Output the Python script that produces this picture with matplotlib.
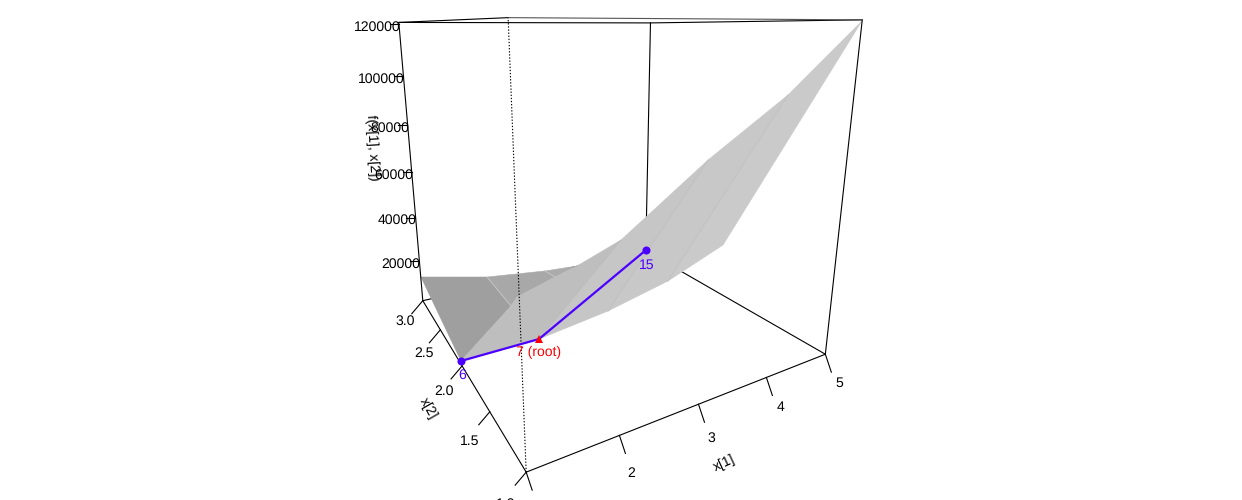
"""Perspective surface with a search tree on top, drawn flat through a fixed camera."""
import numpy as np
import matplotlib
matplotlib.use("Agg")
import matplotlib.pyplot as plt

plt.rcParams["font.family"] = ["Liberation Sans", "DejaVu Sans"]
plt.rcParams["text.hinting"] = "none"
plt.rcParams["text.hinting_factor"] = 1

# camera: (x1, x2, f/1000, 1) -> homogeneous pixel position
CAMERA = np.array([
    [2.4967583e+02, 1.3686193e+02, -1.6217564e+00, 4.9711853e+02],
    [3.7347654e+00, 1.5109401e+01, -6.4083390e+00, 7.7408288e+02],
    [1.5033429e-01, 5.2903073e-01, -2.6944160e-03, 1.0000000e+00],
])

x1_range = [1, 5]
x2_range = [1, 3]
f_range = [0, 120000]

x1_ticks = [1, 2, 3, 4, 5]
x1_tick_labels = ["", "2", "3", "4", "5"]
x2_ticks = [1.0, 1.5, 2.0, 2.5, 3.0]
f_ticks = [20000, 40000, 60000, 80000, 100000, 120000]

# surface vertices
v_x1 = [1, 1.5, 2, 2.5, 3, 4, 4.5, 5, 1, 2, 3, 4, 4.5, 2, 2.5, 1.5]
v_x2 = [2.991, 2.207, 1.865, 1.932, 1.811, 1.608, 1.241, 1.001,
        2.018, 1.989, 1.970, 1.979, 1.706, 2.353, 2.267, 1.792]
v_f = [11660, 26510, 33440, 30700, 40690, 70430, 95570, 119650,
       1410, 2530, 7120, 13230, 32150, 10890, 18430, 25370]

faces = [
    [0, 1, 15, 8],
    [1, 2, 14, 13, 15],
    [2, 3, 14],
    [8, 15, 13, 14, 3, 4, 9],
    [4, 5, 10, 9],
    [5, 6, 11, 10],
    [6, 7, 12, 11],
]
face_grey = ["#9f9f9f", "#a8a8a8", "#ababab", "#bebebe", "#c6c6c6", "#c8c8c8", "#cacaca"]
seams = [(1, 15, "#c4c4c4"), (2, 14, "#c4c4c4"), (4, 9, "#bcbcbc"), (5, 10, "#c0c0c0"), (6, 11, "#c2c2c2")]

# tree path
path_x1 = [1, 2, 3.5]
path_x2 = [2.018, 1.989, 1.898]
path_f = [1410, 2530, 31960]
path_labels = ["6", "7 (root)", "15"]

BLUE = "#4b00ff"
FS = 10.4


def project(x1, x2, f):
    q = CAMERA @ np.array([x1, x2, f / 1000.0, 1.0])
    return q[0] / q[2], q[1] / q[2]


def edge(ax, a, b, **kw):
    pa, pb = project(*a), project(*b)
    ax.plot([pa[0], pb[0]], [pa[1], pb[1]], solid_capstyle="round", **kw)


fig = plt.figure(figsize=(12.42, 5.0), dpi=100)
ax = fig.add_axes([0, 0, 1, 1])
ax.set_xlim(0, 1242)
ax.set_ylim(500, 0)
ax.axis("off")

xa, xb = x1_range
ya, yb = x2_range
za, zb = f_range
line = dict(color="black", lw=0.8)

# back of the box, under the surface
edge(ax, (xa, yb, za), (xb, yb, za), zorder=1, **line)
edge(ax, (xb, ya, za), (xb, yb, za), zorder=1, **line)
edge(ax, (xb, yb, za), (xb, yb, zb), zorder=1, **line)

verts = [project(a, b, c) for a, b, c in zip(v_x1, v_x2, v_f)]
for face, grey in zip(faces, face_grey):
    ax.fill([verts[i][0] for i in face], [verts[i][1] for i in face],
            facecolor=grey, edgecolor=grey, lw=0.4, zorder=2)
for i, j, grey in seams:
    ax.plot([verts[i][0], verts[j][0]], [verts[i][1], verts[j][1]], color=grey, lw=0.7, zorder=3)

# front of the box
edge(ax, (xa, ya, za), (xb, ya, za), zorder=4, **line)
edge(ax, (xa, ya, za), (xa, yb, za), zorder=4, **line)
edge(ax, (xa, yb, za), (xa, yb, zb), zorder=4, **line)
edge(ax, (xb, ya, za), (xb, ya, zb), zorder=4, **line)
edge(ax, (xa, yb, zb), (xb, yb, zb), zorder=4, **line)
edge(ax, (xb, yb, zb), (xb, ya, zb), zorder=4, **line)
edge(ax, (xa, ya, zb), (xa, yb, zb), zorder=4, **line)
edge(ax, (xa, ya, zb), (xb, ya, zb), zorder=4, color="#555555", lw=0.8)
pa, pb = project(xa, ya, za), project(xa, ya, zb)
ax.plot([pa[0], pb[0]], [pa[1], pb[1]], color="black", lw=0.8, ls=(0, (1.2, 1.6)), zorder=4)

# ticks are fixed screen offsets, labels sit per tick
x1_label_off = [(12, 40), (12, 38), (13, 34), (14, 30), (14, 29)]
x2_label_off = [(-21, 32), (-20, 29), (-18, 25), (-16, 23), (-18, 21)]
for t, lab, off in zip(x1_ticks, x1_tick_labels, x1_label_off):
    px, py = project(t, ya, za)
    ax.plot([px, px + 6], [py, py + 18], zorder=4, **line)
    ax.text(px + off[0], py + off[1], lab, ha="center", va="center", fontsize=FS, zorder=6)
for t, off in zip(x2_ticks, x2_label_off):
    px, py = project(xa, t, za)
    ax.plot([px, px - 11], [py, py + 13], zorder=4, **line)
    ax.text(px + off[0], py + off[1], f"{t:.1f}", ha="center", va="center", fontsize=FS, zorder=6)
for t in f_ticks:
    px, py = project(xa, yb, t)
    ax.plot([px - 9, px], [py + 2, py + 2], zorder=4, **line)
    ax.text(px + 1.5, py + 5, str(t), ha="right", va="center", fontsize=FS, zorder=6)

ax.text(724, 463, "x[1]", rotation=25, ha="center", va="center", fontsize=FS, zorder=6)
ax.text(428, 409, "x[2]", rotation=-60, ha="center", va="center", fontsize=FS, zorder=6)
ax.text(372, 148, "f(x[1], x[2])", rotation=-87, ha="center", va="center", fontsize=FS, zorder=6)

# search path
pts = [project(a, b, c) for a, b, c in zip(path_x1, path_x2, path_f)]
ax.plot([p[0] for p in pts], [p[1] for p in pts], color=BLUE, lw=1.6, zorder=7)
ax.plot(pts[0][0], pts[0][1], "o", color=BLUE, ms=5.8, mew=0, zorder=8)
ax.plot(pts[2][0], pts[2][1], "o", color=BLUE, ms=5.8, mew=0, zorder=8)
ax.plot(pts[1][0], pts[1][1], "^", color="#ff0000", ms=5.8, mew=0, zorder=8)
ax.text(pts[0][0] + 1, pts[0][1] + 14, path_labels[0], color=BLUE, ha="center", va="center", fontsize=FS, zorder=9)
ax.text(pts[1][0], pts[1][1] + 13, path_labels[1], color="#ff0000", ha="center", va="center", fontsize=FS, zorder=9)
ax.text(pts[2][0] + 1, pts[2][1] + 15, path_labels[2], color=BLUE, ha="center", va="center", fontsize=FS, zorder=9)

fig.savefig("out.png", dpi=100)
